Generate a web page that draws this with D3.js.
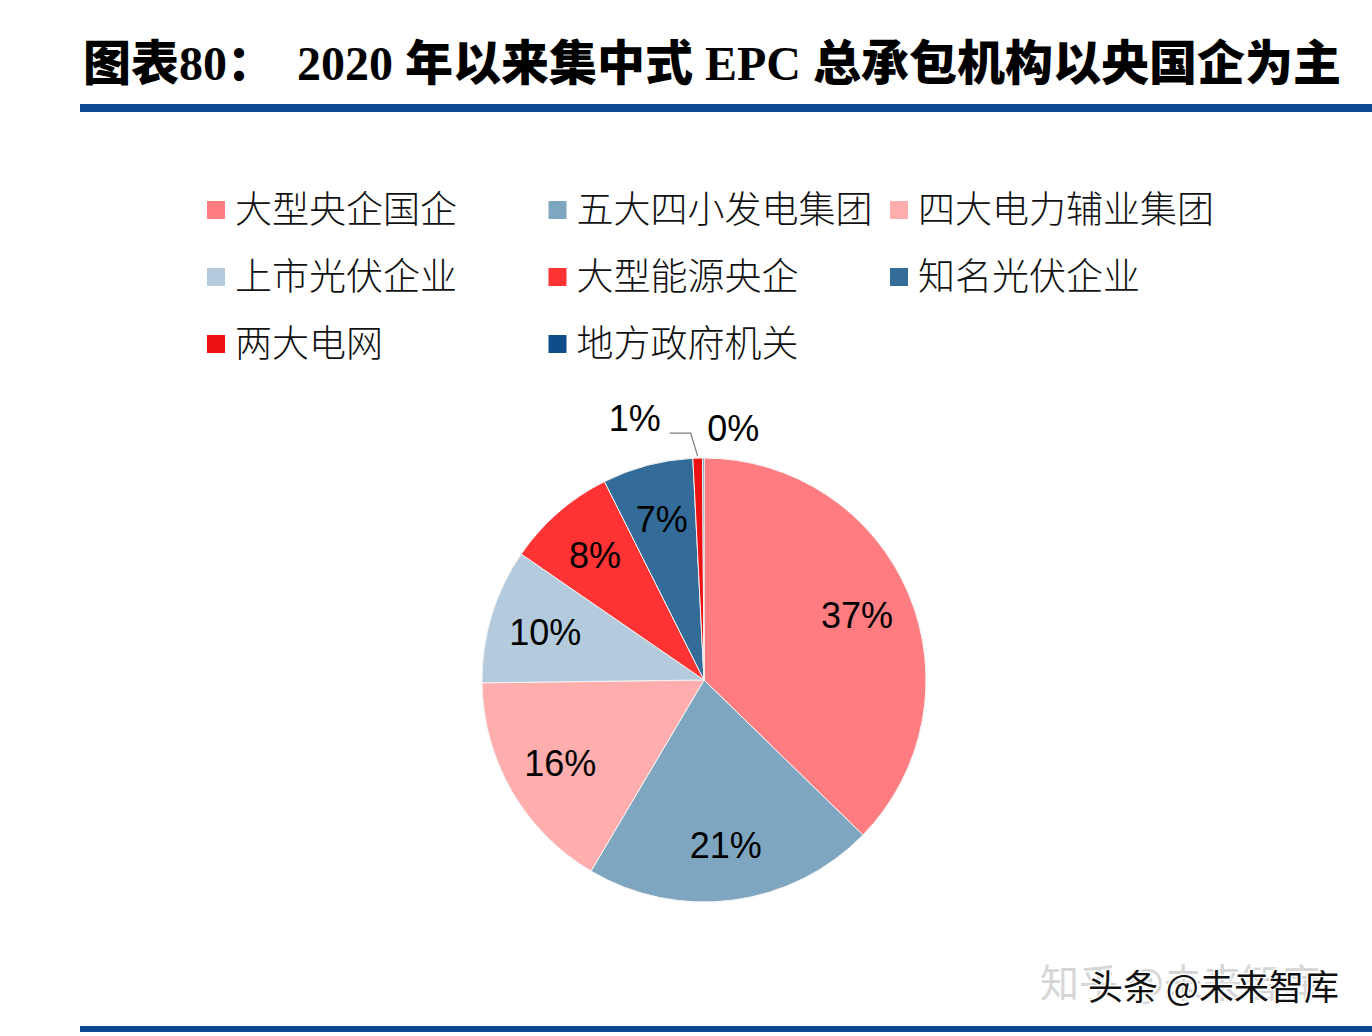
<!DOCTYPE html>
<html>
<head>
<meta charset="utf-8">
<script src="https://cdn.jsdelivr.net/npm/d3@7"></script>
<style>
  body { margin: 0; background: #fff; }
  svg { display: block; }
</style>
</head>
<body>
<div id="vis"></div>
<script>
// data (labels are the rounded shares)
const categories = ['大型央企国企', '五大四小发电集团', '四大电力辅业集团', '上市光伏企业',
  '大型能源央企', '知名光伏企业', '两大电网', '地方政府机关'];
const shares = [37.3, 21.2, 16.3, 9.8, 8.0, 6.6, 0.7, 0.1];
const colors = ['#FF7C80', '#7FA6C1', '#FFADAD', '#B3CBDC', '#FF3333', '#336C98', '#EE1111', '#0F4C8A'];

const W = 1372, H = 1036;

let svg = d3.select('#vis')
  .append('svg')
  .attr('width', W)
  .attr('height', H)
  .style('background-color', 'white');

// title
let title = svg.append('text')
  .attr('x', 83)
  .attr('y', 80)
  .style('font-family', '"Liberation Serif", "Noto Sans CJK SC", serif')
  .style('font-weight', 900)
  .style('font-size', '48px')
  .attr('fill', '#000');
title.append('tspan').text('图表80：');
title.append('tspan').attr('x', 297).text('2020 年以来集中式 EPC 总承包机构以央国企为主');

// rules top and bottom
svg.append('rect').attr('x', 80).attr('y', 104).attr('width', W - 80).attr('height', 8).attr('fill', '#0D4A93');
svg.append('rect').attr('x', 80).attr('y', 1026).attr('width', W - 80).attr('height', 6).attr('fill', '#0D4A93');

// legend, 3 columns
const legX = d3.scalePoint().domain([0, 1, 2]).range([207, 890]);
const legY = d3.scalePoint().domain([0, 1, 2]).range([210, 344]);

let leg = svg.selectAll('.leg')
  .data(categories)
  .enter().append('g')
  .attr('class', 'leg')
  .attr('transform', (d, i) => `translate(${legX(i % 3)},${legY(Math.floor(i / 3))})`);

leg.append('rect')
  .attr('x', 0).attr('y', -9)
  .attr('width', 18).attr('height', 18)
  .attr('fill', (d, i) => colors[i]);

leg.append('text')
  .attr('x', 28)
  .attr('y', 0)
  .attr('dy', '0.36em')
  .style('font-family', '"Noto Sans CJK SC", sans-serif')
  .style('font-weight', 300)
  .style('font-size', '37px')
  .attr('fill', '#111')
  .text(d => d);

// pie
const cx = 704, cy = 680, r = 222;
let g = svg.append('g').attr('transform', `translate(${cx},${cy})`);

let pie = d3.pie().sort(null).value(d => d)(shares);
let arc = d3.arc().innerRadius(0).outerRadius(r);
let labelArc = d3.arc().innerRadius(166).outerRadius(166);

g.selectAll('path')
  .data(pie)
  .enter().append('path')
  .attr('d', arc)
  .attr('fill', (d, i) => colors[i])
  .attr('stroke', '#f4f4f4')
  .attr('stroke-width', 1);

const labelFont = '"Liberation Sans", Arial, sans-serif';
let big = pie.filter(d => d.data >= 2);
let small = pie.filter(d => d.data < 2);

g.selectAll('.lbl')
  .data(big)
  .enter().append('text')
  .attr('class', 'lbl')
  .attr('transform', d => `translate(${labelArc.centroid(d)})`)
  .attr('text-anchor', 'middle')
  .attr('dy', '0.36em')
  .style('font-family', labelFont)
  .style('font-size', '36px')
  .attr('fill', '#000')
  .text(d => Math.round(d.data) + '%');

// small slices: labels outside the pie
const outArc = d3.arc().innerRadius(r + 38).outerRadius(r + 38);
const shiftX = [-62, 30], shiftY = [-2, 8];

small.forEach((d, k) => {
  let [x, y] = outArc.centroid(d);
  x += shiftX[k]; y += shiftY[k];
  g.append('text')
    .attr('x', x).attr('y', y)
    .attr('text-anchor', 'middle')
    .attr('dy', '0.36em')
    .style('font-family', labelFont)
    .style('font-size', '36px')
    .attr('fill', '#000')
    .text(Math.round(d.data) + '%');
  if (k === 0) {
    // leader line from the label to the slice edge
    let a = (d.startAngle + d.endAngle) / 2;
    let ex = (r + 2) * Math.sin(a), ey = -(r + 2) * Math.cos(a);
    g.append('polyline')
      .attr('points', [[x + 35, y + 15], [ex - 7, y + 15], [ex, ey]].map(p => p.join(',')).join(' '))
      .attr('fill', 'none')
      .attr('stroke', '#7f7f7f')
      .attr('stroke-width', 1.3);
  }
});

// watermark (two stamps laid over each other, as in the source image)
svg.append('text')
  .attr('x', 1040).attr('y', 997)
  .style('font-family', '"Noto Sans CJK SC", sans-serif')
  .style('font-size', '39px')
  .attr('fill', '#d6d6d6')
  .text('知乎 @未来智库');
svg.append('text')
  .attr('x', 1088).attr('y', 1000)
  .style('font-family', '"Noto Sans CJK SC", sans-serif')
  .style('font-size', '35px')
  .attr('fill', '#111')
  .style('paint-order', 'stroke')
  .attr('stroke', '#fff')
  .attr('stroke-width', 3)
  .text('头条 @未来智库');
</script>
</body>
</html>
